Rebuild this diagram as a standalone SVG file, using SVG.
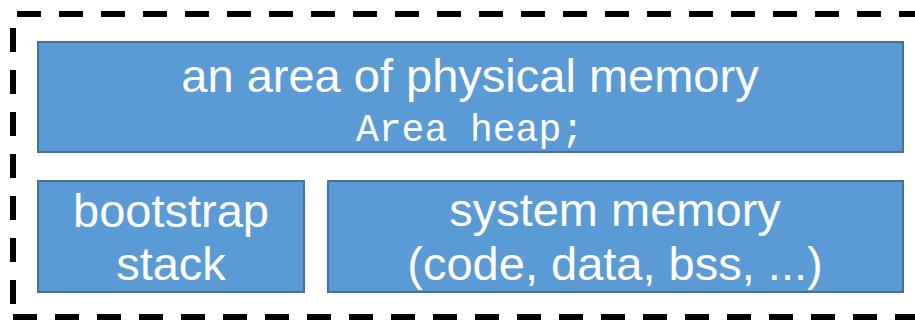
<svg xmlns="http://www.w3.org/2000/svg" width="915" height="320" viewBox="0 0 915 320">
<style>
.box{fill:#5B9BD5;stroke:#41719C;stroke-width:2}
.t{fill:#fff;font-family:"Liberation Sans",Arial,sans-serif;font-size:47px;text-anchor:middle}
.m{fill:#fff;font-family:"Liberation Mono","DejaVu Sans Mono",monospace;font-size:38px;text-anchor:middle}
.frame{fill:none;stroke:#000;stroke-width:6;stroke-dasharray:24 18}
</style>
<g id="frame">
<path class="frame" d="M17,14 H915"/>
<path class="frame" d="M13,28 V316"/>
<path class="frame" d="M13,317 H915"/>
</g>
<g id="heap">
<rect class="box" x="38" y="42" width="865" height="110"/>
<text class="t" x="470" y="92">an area of physical memory</text>
<text class="m" x="470" y="141">Area heap;</text>
</g>
<g id="bootstrap">
<rect class="box" x="38" y="181" width="266" height="111"/>
<text class="t" x="171" y="227">bootstrap</text>
<text class="t" x="171" y="280">stack</text>
</g>
<g id="system">
<rect class="box" x="328" y="181" width="575" height="111"/>
<text class="t" x="615" y="226">system memory</text>
<text class="t" x="615" y="280">(code, data, bss, ...)</text>
</g>
<g id="connectors"/>
</svg>
